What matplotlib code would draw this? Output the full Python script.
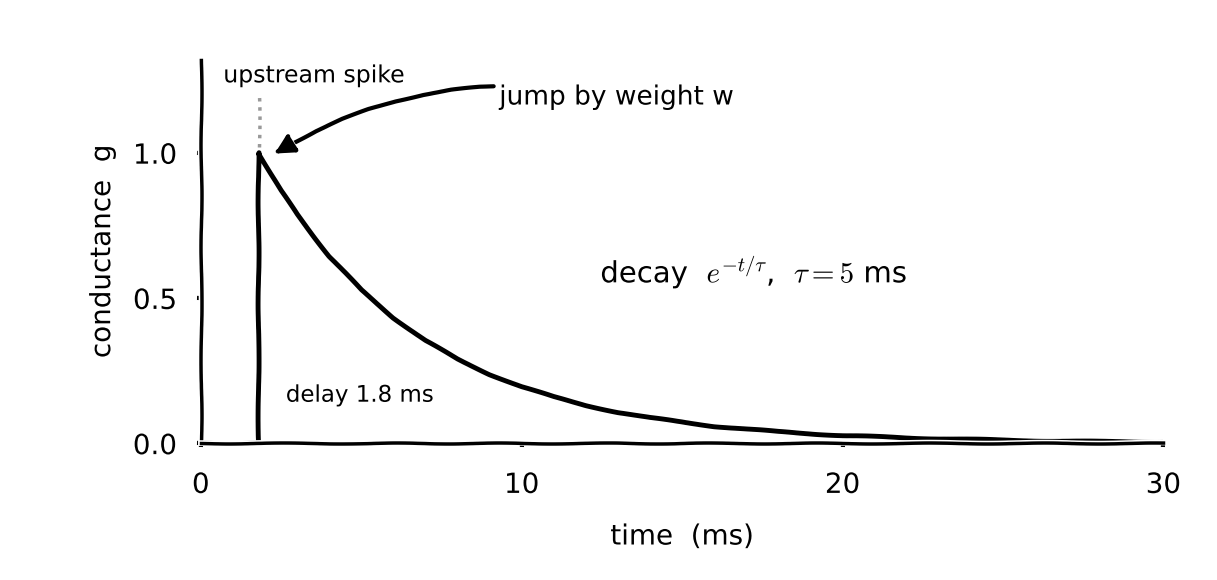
import matplotlib
matplotlib.use('Agg')
import matplotlib.pyplot as plt

# values
t_ms = [0, 1.8, 1.8, 2.5, 3, 4, 5, 6, 7, 8, 9, 10, 11, 12, 13, 14, 16, 18, 20, 22, 25, 28, 30]
g = [0, 0, 1.0, 0.869, 0.787, 0.644, 0.527, 0.432, 0.353, 0.289, 0.237, 0.194, 0.159,
     0.130, 0.106, 0.087, 0.058, 0.039, 0.026, 0.018, 0.010, 0.005, 0.004]
spike_t = 1.8
xticks = [0, 10, 20, 30]
yticks = [0.0, 0.5, 1.0]

with plt.xkcd(scale=0.5, length=120, randomness=2):
    plt.rcParams['font.family'] = ['DejaVu Sans']
    plt.rcParams['mathtext.fontset'] = 'cm'
    plt.rcParams['axes.linewidth'] = 2.5

    fig = plt.figure(figsize=(12.17, 5.8), dpi=100)
    ax = fig.add_axes([0.165, 0.236, 0.791, 0.661])

    ax.plot(t_ms, g, color='black', lw=3.5)
    ax.plot([spike_t, spike_t], [1.02, 1.2], color='#999999', lw=2.5, ls=':')

    ax.text(0.7, 1.225, 'upstream spike', fontsize=17, ha='left', va='bottom')
    ax.annotate('jump by weight w', xy=(2.2, 0.99), xytext=(9.3, 1.19),
                fontsize=19, ha='left', va='center',
                arrowprops=dict(arrowstyle='-|>', color='black', lw=3,
                                mutation_scale=30,
                                connectionstyle='arc3,rad=0.2'))
    ax.text(2.65, 0.165, 'delay 1.8 ms', fontsize=16.5, ha='left', va='center')
    ax.text(12.45, 0.59, r'decay  $e^{-t/\tau}$,  $\tau = 5$ ms', fontsize=21,
            ha='left', va='center')

    ax.spines['top'].set_visible(False)
    ax.spines['right'].set_visible(False)
    ax.set_xlim(0, 30)
    ax.set_ylim(0, 1.32)
    ax.set_xticks(xticks)
    ax.set_yticks(yticks)
    ax.set_yticklabels(['%.1f' % v for v in yticks])
    ax.tick_params(labelsize=20, length=3, width=3)
    ax.tick_params(axis='x', pad=17)
    ax.tick_params(axis='y', pad=14)
    ax.set_xlabel('time  (ms)', fontsize=20, labelpad=17)
    ax.set_ylabel('conductance  g', fontsize=20, labelpad=12)

    fig.savefig('out.png', dpi=100)
